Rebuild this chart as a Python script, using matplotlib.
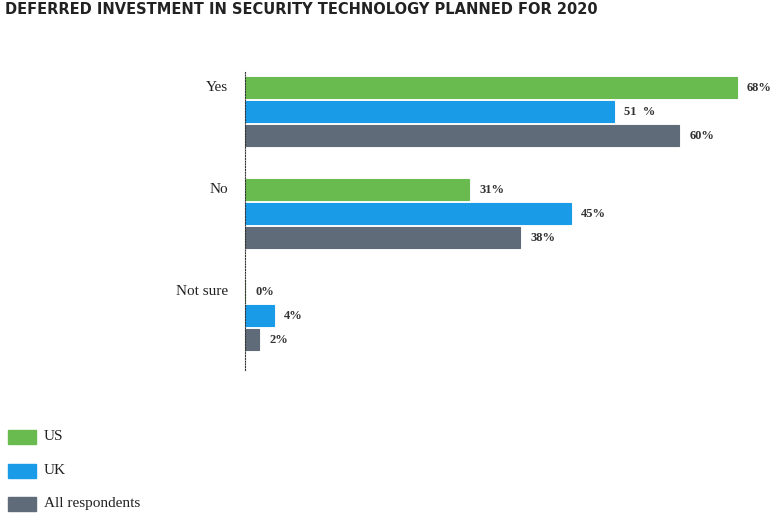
import matplotlib.pyplot as plt
from matplotlib.patches import Rectangle

title = "DEFERRED INVESTMENT IN SECURITY TECHNOLOGY PLANNED FOR 2020"
categories = ["Yes", "No", "Not sure"]
series = ["US", "UK", "All respondents"]
us = [68, 31, 0]
uk = [51, 45, 4]
all_resp = [60, 38, 2]
value_labels = [["68%", "31%", "0%"], ["51  %", "45%", "4%"], ["60%", "38%", "2%"]]
colors = ["#6abb4f", "#1a9be8", "#5f6b78"]

W, H = 775, 515
fig = plt.figure(figsize=(W / 100, H / 100), dpi=100)
ax = fig.add_axes([245 / W, (H - 370) / H, 1 - 245 / W, 298 / H])

group_gap = 4.25
for s, vals in enumerate([us, uk, all_resp]):
    ys = [g * group_gap + (s - 1) for g in range(len(categories))]
    ax.barh(ys, vals, height=0.875, color=colors[s], edgecolor=colors[s], linewidth=0.8)
    for y, v, lab in zip(ys, vals, value_labels[s]):
        ax.text(v + 1.4, y, lab, va="center", ha="left", fontsize=9,
                family="Liberation Serif", fontweight="bold", color="#333333")

for g, cat in enumerate(categories):
    ax.text(-2.3, g * group_gap - 1, cat, ha="right", va="center", fontsize=11,
            family="Liberation Serif", color="#222222")

ax.set_xlim(0, (W - 245) / 7.235)
ax.set_ylim(10.77, -1.646)
for side in ["top", "right", "bottom"]:
    ax.spines[side].set_visible(False)
ax.spines["left"].set_linestyle((0, (1, 1.5)))
ax.spines["left"].set_color("#333333")
ax.set_xticks([])
ax.set_yticks([])

fig.text(5 / W, 1 - 9 / H, title, ha="left", va="center", fontsize=10.5,
         fontweight="bold", color="#222222", family="DejaVu Sans")

for i, (name, c) in enumerate(zip(series, colors)):
    yc = 437 + i * 33.5
    fig.add_artist(Rectangle((8 / W, 1 - (yc + 7) / H), 28 / W, 14 / H,
                             transform=fig.transFigure, color=c))
    fig.text(44 / W, 1 - yc / H, name, ha="left", va="center", fontsize=11,
             family="Liberation Serif", color="#222222")

fig.savefig("out.png", dpi=100)
